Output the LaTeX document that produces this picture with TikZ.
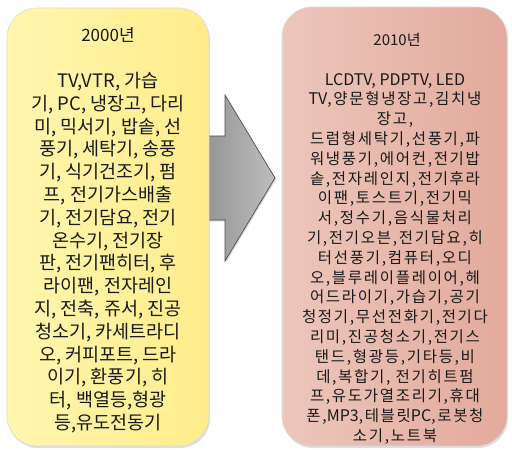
\documentclass[tikz,border=0pt]{standalone}
\usepackage{fontspec}
\newfontfamily\kr{Noto Sans CJK KR}
\newfontfamily\krs[LetterSpace=11]{Noto Sans CJK KR}
\newcommand{\latn}[1]{{\kr\fontsize{16}{19.8}\selectfont #1}}
\usetikzlibrary{shadows}
\definecolor{yelA}{RGB}{255,246,175}
\definecolor{yelB}{RGB}{255,237,140}
\definecolor{pinkA}{RGB}{237,198,188}
\definecolor{pinkB}{RGB}{226,170,156}
\definecolor{grayA}{RGB}{145,145,145}
\definecolor{grayB}{RGB}{190,190,190}
\definecolor{txt}{RGB}{25,25,25}
\tikzset{
  panel/.style={rounded corners=30pt, draw=black!15, line width=0.6pt,
    drop shadow={shadow xshift=1pt, shadow yshift=-2pt, opacity=0.25}},
  yelpanel/.style={panel, left color=yelA, right color=yelB},
  pinkpanel/.style={panel, left color=pinkA, right color=pinkB},
  bigarrow/.style={left color=grayA, right color=grayB, draw=black!70, line width=0.7pt,
    drop shadow={shadow xshift=1pt, shadow yshift=-1.5pt, opacity=0.3}},
  titletext/.style={text=txt, inner sep=0pt, font=\kr\fontsize{17}{20}\selectfont},
  lefttext/.style={text=txt, inner sep=0pt, align=center, anchor=north,
    font=\kr\fontsize{18.5}{22.8}\selectfont},
  righttext/.style={text=txt, inner sep=0pt, align=center, anchor=north,
    font=\krs\fontsize{15.5}{19.8}\selectfont},
}
\begin{document}
\begin{tikzpicture}[x=1pt,y=-1pt]
\useasboundingbox (0,0) rectangle (512,450);
\fill[white] (0,0) rectangle (512,450);
% arrow
\path[bigarrow] (200,136) -- (225,136) -- (225,95) -- (275,178) -- (225,261) -- (225,220) -- (200,220) -- cycle;
% panels
\path[yelpanel] (7,8) rectangle (209,446);
\path[pinkpanel] (282,7) rectangle (507,446);
% titles
\node[titletext] (t1) at (108,35) {2000년};
\node[titletext, font=\kr\fontsize{15}{18}\selectfont] (t2) at (397,40) {2010년};
% left list
\node[lefttext] (l1) at (108,72) {TV,VTR, 가습\\
기, PC, 냉장고, 다리\\
미, 믹서기, 밥솥, 선\\
풍기, 세탁기, 송풍\\
기, 식기건조기, 펌\\
프, 전기가스배출\\
기, 전기담요, 전기\\
온수기, 전기장\\
판, 전기팬히터, 후\\
라이팬, 전자레인\\
지, 전축, 쥬서, 진공\\
청소기, 카세트라디\\
오, 커피포트, 드라\\
이기, 환풍기, 히\\
터, 백열등,형광\\
등,유도전동기};
% right list
\node[righttext] (r1) at (395,73) {\latn{LCDTV, PDPTV, LED}\\
\latn{TV},양문형냉장고,김치냉\\
장고,\\
드럼형세탁기,선풍기,파\\
워냉풍기,에어컨,전기밥\\
솥,전자레인지,전기후라\\
이팬,토스트기,전기믹\\
서,정수기,음식물처리\\
기,전기오븐,전기담요,히\\
터선풍기,컴퓨터,오디\\
오,블루레이플레이어,헤\\
어드라이기,가습기,공기\\
청정기,무선전화기,전기다\\
리미,진공청소기,전기스\\
탠드,형광등,기타등,비\\
데,복합기, 전기히트펌\\
프,유도가열조리기,휴대\\
폰,\latn{MP3},테블릿\latn{PC},로봇청\\
소기,노트북};
\end{tikzpicture}
\end{document}
